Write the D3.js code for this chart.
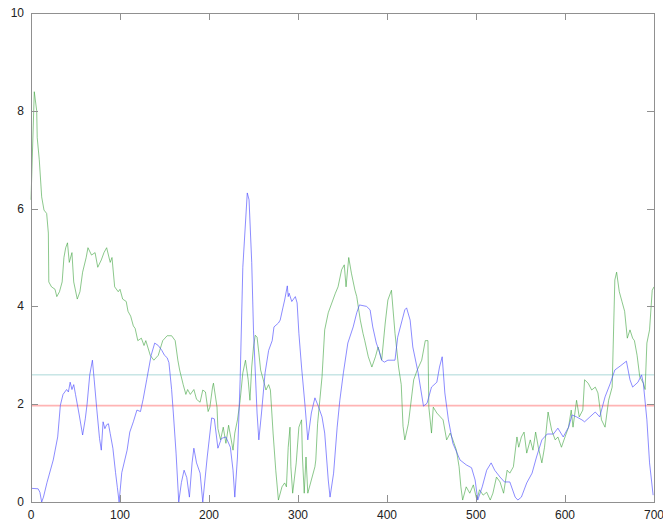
<!DOCTYPE html>
<html>
<head>
<meta charset="utf-8">
<script src="https://cdn.jsdelivr.net/npm/d3@7"></script>
<style>
  body { margin: 0; background: #fff; }
  svg text { font-family: "Liberation Sans", Arial, sans-serif; font-size: 12px; fill: #222; }
</style>
</head>
<body>
<div id="chart"></div>
<script>
// values
var xTicks = [0, 100, 200, 300, 400, 500, 600, 700];
var yTicks = [0, 2, 4, 6, 8, 10];
var cyanLevel = 2.6;
var redLevel = 1.97;

var blueX = [0, 8, 10, 12, 14, 18, 25, 30, 33, 36, 40, 42, 44, 46, 48, 50, 54, 58, 61, 63, 66, 69, 71, 74, 77, 79, 81, 83, 85, 87, 89, 92, 95, 97, 99,
  102, 108, 111, 115, 119, 123, 126, 130, 135, 139, 143, 147, 150, 153, 155, 158, 160, 163, 166, 169, 172, 175, 178, 181, 183, 186, 190, 193,
  198, 203, 206, 210, 214, 219, 224, 227, 229, 232, 235, 238, 243, 245, 248, 250, 254, 256, 259, 263, 267, 271, 273, 278, 280, 283, 285, 288, 289, 290, 293, 297, 299,
  301, 304, 308, 311, 315, 319, 323, 327, 330, 334, 336, 340, 344, 347, 351, 356, 362, 366, 369, 377, 381, 384, 388, 391, 394, 397, 401, 409, 412, 417, 420, 422, 426, 429,
  435, 441, 445, 450, 456, 459, 462, 465, 469, 474, 482, 489, 495, 499, 502, 507, 512, 517, 521, 527, 532, 538, 544, 547, 551, 557, 563, 568, 574, 580, 587, 592, 598,
  604, 608, 613, 619, 622, 628, 634, 639, 645, 651, 656, 662, 669, 673, 676, 682, 686, 688, 692, 695, 699];
var blueY = [0.28, 0.27, 0.2, 0.0, 0.1, 0.4, 0.86, 1.33, 1.98, 2.2, 2.3, 2.25, 2.45, 2.3, 2.4, 2.2, 1.8, 1.37, 1.7, 2.0, 2.6, 2.9, 2.5, 1.88, 1.3, 1.06, 1.64, 1.5, 1.58, 1.6, 1.4, 1.1, 0.6, 0.3, 0.0,
  0.6, 1.06, 1.43, 1.64, 1.88, 1.85, 2.1, 2.5, 3.0, 3.25, 3.2, 3.1, 3.0, 2.95, 2.85, 2.3, 1.8, 1.0, 0.0, 0.4, 0.65, 0.5, 0.1, 0.8, 1.1, 0.8, 0.59, 0.0,
  0.92, 1.72, 1.7, 1.1, 1.3, 1.33, 1.12, 0.65, 0.1, 0.92, 2.5, 4.8, 6.32, 6.18, 4.9, 3.5, 1.82, 1.27, 1.82, 2.64, 3.1, 3.3, 3.58, 3.66, 3.72, 3.97, 4.13, 4.42, 4.2, 4.27, 4.1, 4.2, 4.07,
  3.45, 2.76, 1.95, 1.27, 1.82, 2.13, 1.95, 1.74, 1.41, 0.45, 0.1, 0.59, 1.53, 2.08, 2.64, 3.25, 3.58, 3.87, 4.03, 4.0, 3.93, 3.58, 3.25, 3.1, 2.9, 2.86, 2.9, 2.9, 3.37, 3.72, 3.93, 3.97, 3.72, 3.17,
  2.64, 1.96, 2.02, 2.35, 2.45, 2.76, 2.97, 2.23, 1.68, 1.2, 0.86, 0.76, 0.7, 0.45, 0.04, 0.31, 0.65, 0.8, 0.65, 0.51, 0.41, 0.41, 0.1, 0.04, 0.1, 0.39, 0.59, 0.92, 1.27, 1.39, 1.39, 1.51, 1.33,
  1.53, 1.78, 1.74, 1.68, 1.64, 1.74, 1.84, 1.74, 2.15, 2.43, 2.7, 2.78, 2.88, 2.5, 2.35, 2.45, 2.6, 2.43, 1.68, 0.8, 0.14];

var greenX = [0, 3.7, 6.4, 7, 9.3, 12, 14.6, 17.6, 19.5, 20, 23, 27, 29, 32, 35, 37, 39, 41, 43, 46, 48, 52, 55, 58, 62, 64, 68, 72, 75, 79, 82, 85, 89, 91, 94, 98,
  100, 103, 107, 109, 112, 115, 117, 120, 124, 127, 129, 134, 138, 143, 148, 153, 158, 162, 165, 167, 171, 174, 176, 179, 183, 186, 190, 193, 196, 199,
  201, 204, 205, 209, 210, 213, 216, 219, 222, 225, 227, 229, 232, 235, 238, 241, 244, 246, 248, 250, 252, 254, 256, 258, 261, 264, 267, 269, 272, 275, 278, 282, 285, 287, 289, 291, 292, 294, 298,
  301, 304, 305, 307, 309, 311, 315, 319, 320, 322, 327, 330, 334, 338, 342, 345, 349, 352, 354, 357, 360, 364, 366, 370, 373, 375, 379, 383, 387, 390, 394, 398,
  401, 405, 409, 413, 416, 418, 420, 424, 430, 434, 439, 443, 446, 447, 450, 452, 456, 460, 463, 467, 471, 474, 478, 481, 483, 485, 489, 493, 497,
  501, 504, 508, 512, 516, 519, 523, 527, 531, 535, 538, 542, 546, 548, 551, 554, 557, 561, 564, 567, 570, 574, 577, 581, 585, 589, 592, 596,
  600, 604, 607, 609, 613, 616, 620, 622, 626, 630, 634, 637, 641, 645, 649, 653, 656, 658, 661, 664, 667, 670, 673, 676, 678, 681, 684, 688, 690, 692, 695, 698, 700];
var greenY = [6.18, 8.39, 8.0, 7.45, 7.0, 6.24, 5.97, 5.9, 5.5, 4.5, 4.4, 4.35, 4.2, 4.3, 4.5, 5.0, 5.2, 5.3, 4.9, 5.1, 4.5, 4.15, 4.3, 4.7, 5.0, 5.2, 5.05, 5.1, 4.8, 4.95, 5.1, 5.2, 4.9, 5.0, 4.4, 4.3,
  4.35, 4.15, 4.1, 3.9, 3.8, 3.6, 3.55, 3.3, 3.35, 3.2, 3.3, 3.0, 2.9, 3.0, 3.3, 3.4, 3.4, 3.3, 2.9, 2.7, 2.4, 2.2, 2.3, 2.2, 2.3, 2.1, 2.04, 2.29, 2.25, 1.85,
  1.94, 2.35, 2.43, 1.94, 1.5, 1.27, 1.53, 1.2, 1.57, 1.27, 1.06, 1.41, 1.68, 2.08, 2.64, 2.9, 2.5, 2.08, 2.76, 3.17, 3.41, 3.37, 3.05, 2.7, 2.5, 2.29, 2.4, 2.29, 1.41, 0.65, 0.04, 0.31, 0.39, 0.31, 1.12, 1.53, 0.72, 0.18, 0.8,
  1.53, 1.68, 0.92, 0.18, 0.92, 0.18, 0.45, 0.72, 0.86, 1.6, 2.56, 3.52, 3.87, 4.07, 4.27, 4.4, 4.75, 4.85, 4.4, 5.0, 4.68, 4.33, 4.2, 3.72, 3.45, 3.3, 2.97, 2.76, 2.97, 3.17, 2.9, 3.66,
  4.13, 4.33, 3.45, 2.76, 2.4, 1.55, 1.27, 1.6, 2.5, 2.7, 2.9, 3.3, 3.3, 1.94, 1.41, 1.94, 1.82, 1.74, 1.68, 1.27, 1.41, 1.27, 1.06, 0.72, 0.31, 0.04, 0.31, 0.18, 0.35,
  0.04, 0.25, 0.14, 0.2, 0.04, 0.18, 0.51, 0.41, 0.18, 0.65, 0.59, 0.72, 1.33, 1.12, 1.33, 1.43, 1.0, 1.27, 1.06, 1.43, 1.12, 0.8, 1.12, 1.84, 1.47, 1.27, 1.33, 1.12,
  1.33, 1.53, 1.88, 1.53, 2.08, 1.74, 1.88, 2.5, 2.43, 2.29, 2.35, 2.23, 1.68, 1.53, 2.08, 2.35, 4.54, 4.7, 4.3, 4.1, 3.9, 3.35, 3.52, 3.35, 3.3, 3.0, 2.56, 2.43, 2.3, 3.25, 3.52, 4.33, 4.4];

var W = 663, H = 525;
var margin = {left: 31, right: 654, top: 13, bottom: 502};

var svg = d3.select("#chart").append("svg")
    .attr("width", W)
    .attr("height", H);

var x = d3.scaleLinear().domain([0, 700]).range([margin.left, margin.right]);
var y = d3.scaleLinear().domain([0, 10]).range([margin.bottom, margin.top]);

// level lines
svg.append("line")
    .attr("x1", x(0)).attr("x2", x(700))
    .attr("y1", y(cyanLevel)).attr("y2", y(cyanLevel))
    .attr("stroke", "#abd8d8").attr("stroke-width", 1);
svg.append("line")
    .attr("x1", x(0)).attr("x2", x(700))
    .attr("y1", y(redLevel)).attr("y2", y(redLevel))
    .attr("stroke", "#ffb4b4").attr("stroke-width", 1.6);

var line = d3.line()
    .x(function(d) { return x(d[0]); })
    .y(function(d) { return y(d[1]); });

svg.append("path")
    .datum(greenX.map(function(v, i) { return [v, greenY[i]]; }))
    .attr("d", line)
    .attr("fill", "none")
    .attr("stroke", "#3fa33f")
    .attr("stroke-opacity", 0.6)
    .attr("stroke-width", 1);

svg.append("path")
    .datum(blueX.map(function(v, i) { return [v, blueY[i]]; }))
    .attr("d", line)
    .attr("fill", "none")
    .attr("stroke", "#4f4fff")
    .attr("stroke-opacity", 0.65)
    .attr("stroke-width", 1);

// gnuplot-ish frame with inward ticks on all sides
var tickLen = 7;
var frame = svg.append("g").attr("stroke", "#909090").attr("stroke-width", 1).attr("fill", "none");
frame.append("rect")
    .attr("x", margin.left + 0.5).attr("y", margin.top + 0.5)
    .attr("width", margin.right - margin.left).attr("height", margin.bottom - margin.top);

xTicks.forEach(function(t) {
  var px = Math.round(x(t)) + 0.5;
  frame.append("line").attr("x1", px).attr("x2", px).attr("y1", margin.bottom).attr("y2", margin.bottom - tickLen);
  frame.append("line").attr("x1", px).attr("x2", px).attr("y1", margin.top).attr("y2", margin.top + tickLen);
  svg.append("text")
    .attr("x", x(t)).attr("y", margin.bottom + 17)
    .attr("text-anchor", "middle")
    .text(t);
});

yTicks.forEach(function(t) {
  var py = Math.round(y(t)) + 0.5;
  frame.append("line").attr("x1", margin.left).attr("x2", margin.left + tickLen).attr("y1", py).attr("y2", py);
  frame.append("line").attr("x1", margin.right).attr("x2", margin.right - tickLen).attr("y1", py).attr("y2", py);
  svg.append("text")
    .attr("x", margin.left - 7).attr("y", y(t) + 4)
    .attr("text-anchor", "end")
    .text(t);
});
</script>
</body>
</html>
